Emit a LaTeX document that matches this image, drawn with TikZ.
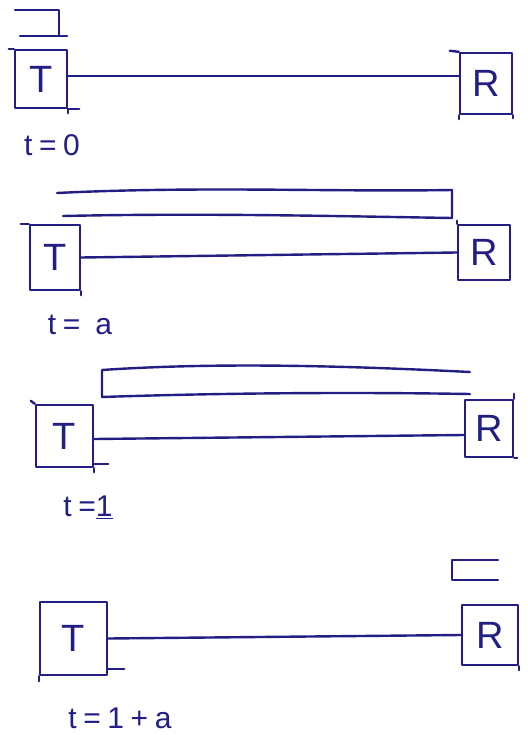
\documentclass[tikz,border=0pt]{standalone}
\usepackage{fontspec}
\setmainfont{Liberation Sans}
\newfontfamily\hand[LetterSpace=22]{Liberation Sans}
\usetikzlibrary{calc}
\definecolor{ink}{RGB}{34,30,132}
\begin{document}
\begin{tikzpicture}[x=1pt,y=-1pt,line width=2.4pt,draw=ink,line cap=round,line join=round,
  box/.style={draw,inner sep=0pt,text=ink,font=\fontsize{38}{40}\selectfont},
  lab/.style={text=ink,anchor=center,font=\hand\fontsize{30}{32}\selectfont},
  sig/.style={draw=ink},
  tick/.style={draw=ink}]
\fill[white] (0,0) rectangle (527,735);
\useasboundingbox (0,0) rectangle (527,735);

% ---------- panel 1: t=0 ----------
\node[box,minimum width=52pt,minimum height=58pt] (T1) at (41,79) {T};
\node[box,minimum width=52pt,minimum height=61pt] (R1) at (486,83.5) {R};
\draw ($(T1.east)+(0,-3)$) -- ($(R1.west)+(0,-7.5)$);
\draw[tick] (T1.south east) -- +(11,0);
\draw[tick] (T1.north west) -- +(-5,0);
\draw[tick] (T1.south east) -- +(0,4);
\draw[tick] (R1.north west) -- +(-9,-1);
\draw[tick] (R1.south west) -- +(0,4);
\draw[tick] (R1.south east) -- +(0,3);
\draw[sig] (15,10) -- (59,10) -- (59,35);
\draw[sig] (20,36) -- (67,36);
\node[lab] (L1) at (52,145) {t=0};

% ---------- panel 2: t=a ----------
\node[box,minimum width=50pt,minimum height=65pt] (T2) at (55,257.5) {T};
\node[box,minimum width=52pt,minimum height=55pt] (R2) at (484,252.5) {R};
\draw (T2.east) -- (R2.west);
\draw[tick] (T2.north west) -- +(-8,0);
\draw[tick] (T2.south east) -- +(0,4);
\draw[tick] (R2.north west) -- +(0,-3);
\draw[sig] (57,193) .. controls (200,186) and (330,192) .. (452,190) -- (452,218)
  .. controls (330,216) and (200,213) .. (63,216);
\node[lab] (L2) at (80,325) {t= a};

% ---------- panel 3: t=1 ----------
\node[box,minimum width=57pt,minimum height=62pt] (T3) at (64.5,436) {T};
\node[box,minimum width=48pt,minimum height=57pt] (R3) at (489,428.5) {R};
\draw ($(T3.east)+(0,3)$) -- ($(R3.west)+(0,6.5)$);
\draw[tick] ($(T3.south east)+(0,-4)$) -- +(14,0);
\draw[tick] (T3.south east) -- +(0,4);
\draw[tick] (T3.north west) -- +(-4,-3);
\draw[tick] (R3.north east) -- +(0,-5);
\draw[tick] (R3.south east) -- +(3,0);
\draw[sig] (470,372) .. controls (350,366) and (220,362) .. (102,370) -- (102,397)
  .. controls (220,393) and (350,392) .. (470,394);
\node[lab] (L3) at (88,507) {t=\underline{1}};

% ---------- panel 4: t=1+a ----------
\node[box,minimum width=67pt,minimum height=73pt] (T4) at (73.5,638.5) {T};
\node[box,minimum width=56pt,minimum height=60pt] (R4) at (490,635) {R};
\draw (T4.east) -- (R4.west);
\draw[tick] ($(T4.south east)+(0,-7)$) -- +(16,0);
\draw[tick] (T4.south west) -- +(0,5);
\draw[tick] (R4.south east) -- +(0,4);
\draw[sig] (498,560) -- (452,560) -- (452,580) -- (498,580);
\node[lab] (L4) at (120,718) {t=1+a};
\end{tikzpicture}
\end{document}
